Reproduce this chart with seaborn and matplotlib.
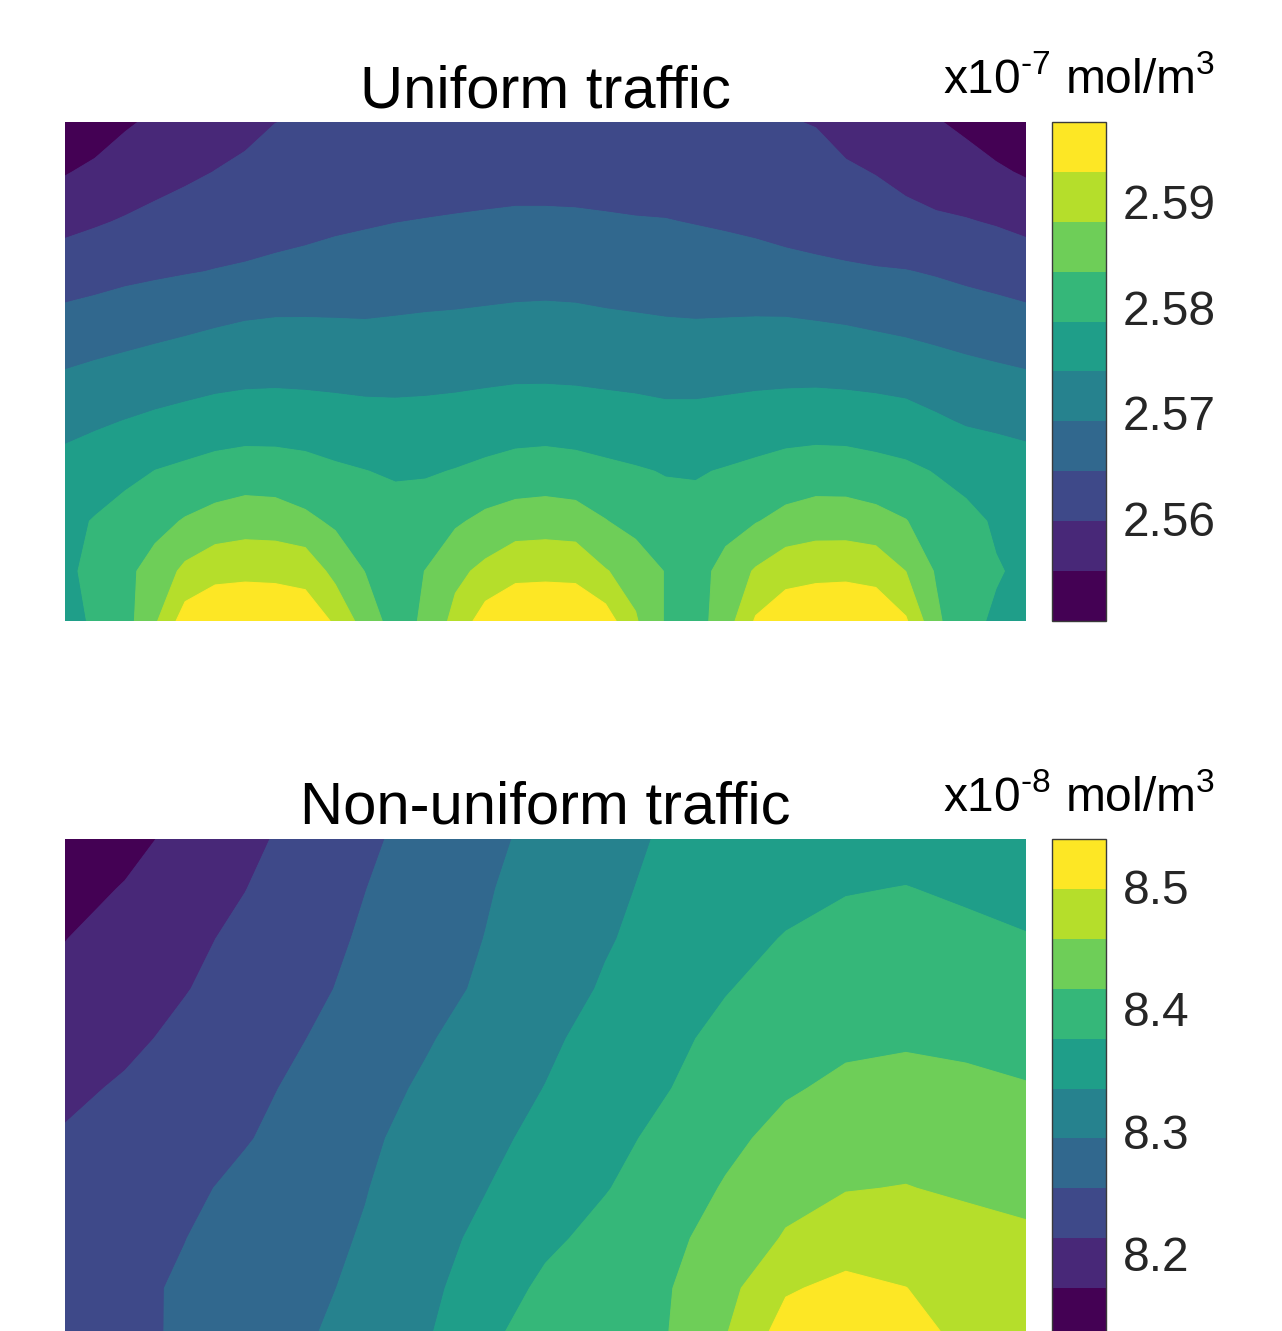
import numpy as np
import matplotlib as mpl
mpl.use("Agg")
import matplotlib.pyplot as plt
import seaborn as sns

# ---------------- data (concentration fields) ----------------
# Uniform traffic, units of 1e-7 mol/m^3; 11 rows (top -> bottom) x 33 columns (left -> right)
uniform_conc = [
    [2.5503, 2.5524, 2.5545, 2.5557, 2.5568, 2.5579, 2.5588, 2.5597, 2.5600, 2.5601, 2.5602, 2.5603, 2.5604, 2.5604, 2.5604, 2.5605, 2.5605, 2.5605, 2.5605, 2.5604, 2.5604, 2.5603, 2.5601, 2.5600, 2.5599, 2.5596, 2.5584, 2.5574, 2.5563, 2.5553, 2.5541, 2.5524, 2.5505],
    [2.5547, 2.5560, 2.5571, 2.5581, 2.5590, 2.5598, 2.5604, 2.5610, 2.5615, 2.5619, 2.5621, 2.5623, 2.5625, 2.5626, 2.5627, 2.5628, 2.5628, 2.5628, 2.5627, 2.5626, 2.5625, 2.5623, 2.5621, 2.5618, 2.5613, 2.5608, 2.5602, 2.5596, 2.5587, 2.5578, 2.5568, 2.5557, 2.5545],
    [2.5585, 2.5593, 2.5601, 2.5609, 2.5615, 2.5621, 2.5626, 2.5630, 2.5634, 2.5638, 2.5641, 2.5644, 2.5646, 2.5648, 2.5650, 2.5652, 2.5652, 2.5651, 2.5649, 2.5647, 2.5646, 2.5643, 2.5640, 2.5636, 2.5631, 2.5626, 2.5620, 2.5614, 2.5608, 2.5603, 2.5600, 2.5594, 2.5586],
    [2.5622, 2.5628, 2.5634, 2.5638, 2.5642, 2.5646, 2.5649, 2.5653, 2.5656, 2.5660, 2.5663, 2.5665, 2.5668, 2.5671, 2.5673, 2.5675, 2.5677, 2.5676, 2.5674, 2.5672, 2.5669, 2.5666, 2.5663, 2.5661, 2.5657, 2.5654, 2.5651, 2.5648, 2.5646, 2.5641, 2.5635, 2.5629, 2.5622],
    [2.5658, 2.5663, 2.5669, 2.5675, 2.5681, 2.5687, 2.5692, 2.5695, 2.5695, 2.5694, 2.5693, 2.5695, 2.5697, 2.5698, 2.5700, 2.5702, 2.5702, 2.5701, 2.5698, 2.5696, 2.5694, 2.5693, 2.5694, 2.5695, 2.5695, 2.5692, 2.5689, 2.5684, 2.5679, 2.5673, 2.5667, 2.5663, 2.5658],
    [2.5693, 2.5700, 2.5706, 2.5712, 2.5717, 2.5722, 2.5725, 2.5726, 2.5725, 2.5724, 2.5723, 2.5724, 2.5725, 2.5726, 2.5728, 2.5730, 2.5730, 2.5729, 2.5727, 2.5725, 2.5722, 2.5722, 2.5723, 2.5725, 2.5726, 2.5726, 2.5724, 2.5722, 2.5718, 2.5711, 2.5704, 2.5698, 2.5693],
    [2.5727, 2.5733, 2.5740, 2.5747, 2.5753, 2.5759, 2.5763, 2.5764, 2.5762, 2.5758, 2.5754, 2.5752, 2.5753, 2.5756, 2.5760, 2.5764, 2.5765, 2.5763, 2.5759, 2.5756, 2.5752, 2.5752, 2.5756, 2.5760, 2.5763, 2.5765, 2.5764, 2.5760, 2.5756, 2.5745, 2.5735, 2.5731, 2.5727],
    [2.5753, 2.5763, 2.5772, 2.5787, 2.5795, 2.5804, 2.5809, 2.5807, 2.5802, 2.5793, 2.5787, 2.5781, 2.5782, 2.5788, 2.5796, 2.5804, 2.5807, 2.5803, 2.5796, 2.5790, 2.5784, 2.5783, 2.5789, 2.5796, 2.5805, 2.5809, 2.5808, 2.5802, 2.5795, 2.5784, 2.5772, 2.5763, 2.5756],
    [2.5774, 2.5789, 2.5808, 2.5819, 2.5837, 2.5850, 2.5859, 2.5857, 2.5843, 2.5826, 2.5812, 2.5805, 2.5809, 2.5827, 2.5845, 2.5856, 2.5859, 2.5855, 2.5835, 2.5817, 2.5803, 2.5800, 2.5814, 2.5831, 2.5847, 2.5857, 2.5857, 2.5849, 2.5835, 2.5809, 2.5798, 2.5781, 2.5774],
    [2.5781, 2.5793, 2.5822, 2.5851, 2.5891, 2.5915, 2.5917, 2.5916, 2.5914, 2.5865, 2.5832, 2.5815, 2.5834, 2.5869, 2.5892, 2.5916, 2.5917, 2.5916, 2.5883, 2.5862, 2.5831, 2.5812, 2.5852, 2.5885, 2.5911, 2.5916, 2.5917, 2.5913, 2.5880, 2.5829, 2.5800, 2.5789, 2.5779],
    [2.5774, 2.5791, 2.5815, 2.5874, 2.5951, 2.5961, 2.5966, 2.5963, 2.5951, 2.5923, 2.5857, 2.5815, 2.5840, 2.5895, 2.5951, 2.5963, 2.5966, 2.5963, 2.5951, 2.5885, 2.5829, 2.5815, 2.5857, 2.5933, 2.5956, 2.5963, 2.5966, 2.5958, 2.5933, 2.5843, 2.5796, 2.5781, 2.5774],
]
uniform_range = [2.5503, 2.5975]
uniform_ticks = [2.56, 2.57, 2.58, 2.59]

# Non-uniform traffic, units of 1e-8 mol/m^3; 11 rows (top -> bottom) x 17 columns
nonuniform_conc = [
    [8.1386, 8.1606, 8.1816, 8.2036, 8.2246, 8.2466, 8.2666, 8.2856, 8.3046, 8.3226, 8.3386, 8.3466, 8.3536, 8.3576, 8.3626, 8.3596, 8.3506],
    [8.1586, 8.1736, 8.1916, 8.2116, 8.2326, 8.2526, 8.2716, 8.2906, 8.3106, 8.3276, 8.3426, 8.3556, 8.3646, 8.3736, 8.3766, 8.3706, 8.3636],
    [8.1706, 8.1876, 8.2036, 8.2206, 8.2386, 8.2576, 8.2766, 8.2946, 8.3146, 8.3316, 8.3486, 8.3626, 8.3776, 8.3866, 8.3886, 8.3836, 8.3776],
    [8.1816, 8.1956, 8.2106, 8.2276, 8.2446, 8.2626, 8.2806, 8.2996, 8.3176, 8.3386, 8.3576, 8.3736, 8.3896, 8.3986, 8.4006, 8.3966, 8.3916],
    [8.1936, 8.2046, 8.2206, 8.2376, 8.2526, 8.2716, 8.2906, 8.3086, 8.3276, 8.3486, 8.3656, 8.3856, 8.4026, 8.4096, 8.4126, 8.4096, 8.4046],
    [8.2046, 8.2166, 8.2296, 8.2426, 8.2616, 8.2816, 8.2986, 8.3176, 8.3356, 8.3556, 8.3736, 8.3936, 8.4126, 8.4236, 8.4266, 8.4236, 8.4186],
    [8.2156, 8.2256, 8.2366, 8.2506, 8.2676, 8.2876, 8.3066, 8.3256, 8.3446, 8.3646, 8.3846, 8.4076, 8.4276, 8.4396, 8.4426, 8.4386, 8.4326],
    [8.2226, 8.2326, 8.2456, 8.2616, 8.2776, 8.2926, 8.3106, 8.3336, 8.3556, 8.3736, 8.3956, 8.4196, 8.4446, 8.4556, 8.4586, 8.4516, 8.4466],
    [8.2296, 8.2386, 8.2526, 8.2676, 8.2826, 8.2966, 8.3216, 8.3426, 8.3676, 8.3876, 8.4066, 8.4306, 8.4606, 8.4776, 8.4766, 8.4716, 8.4636],
    [8.2346, 8.2446, 8.2576, 8.2716, 8.2846, 8.3026, 8.3256, 8.3536, 8.3836, 8.4006, 8.4126, 8.4446, 8.4936, 8.5086, 8.4986, 8.4816, 8.4716],
    [8.2386, 8.2486, 8.2556, 8.2756, 8.2906, 8.3086, 8.3306, 8.3696, 8.3916, 8.4046, 8.4146, 8.4566, 8.5186, 8.5226, 8.5146, 8.4896, 8.4776],
]
nonuniform_range = [8.1306, 8.5390]
nonuniform_ticks = [8.2, 8.3, 8.4, 8.5]

titles = ["Uniform traffic", "Non-uniform traffic"]
unit_labels = [r"x10$^{\text{-}7}$ mol/m$^{3}$", r"x10$^{\text{-}8}$ mol/m$^{3}$"]
n_bands = 10

# ---------------- style ----------------
sns.set_theme(style="white")
plt.rcParams["font.family"] = ["Liberation Sans", "DejaVu Sans"]
plt.rcParams["mathtext.fontset"] = "custom"
plt.rcParams["mathtext.rm"] = "Liberation Sans"
plt.rcParams["mathtext.it"] = "Liberation Sans"
plt.rcParams["mathtext.bf"] = "Liberation Sans:bold"
plt.rcParams["axes.unicode_minus"] = False

palette = sns.color_palette(mpl.colormaps["viridis"](np.linspace(0, 1, n_bands)))

W, H = 1282, 1331
fig = plt.figure(figsize=(W / 100, H / 100), dpi=100)


def box(l, t, r, b):
    return [l / W, 1 - b / H, (r - l) / W, (b - t) / H]


def panel(ax, cax, conc, vrange, ticks, fmt, title, unit, title_base, unit_base):
    Z = np.array(conc)
    ys = np.arange(Z.shape[0])
    xs = np.arange(Z.shape[1])
    levels = np.linspace(vrange[0], vrange[1], n_bands + 1)
    cs = ax.contourf(xs, ys, Z, levels=levels, colors=palette, antialiased=True)
    cs.set_edgecolor("face")
    cs.set_linewidth(0.8)
    ax.set_xlim(xs[0], xs[-1])
    ax.set_ylim(ys[-1], ys[0])
    ax.set_axis_off()

    cb = fig.colorbar(cs, cax=cax, ticks=ticks)
    cb.ax.set_yticklabels([fmt.format(t) for t in ticks])
    cb.outline.set_edgecolor("#3a3a3a")
    cb.outline.set_linewidth(1.0)
    cax.tick_params(axis="y", direction="in", length=5, width=1.0,
                    colors="#262626", labelsize=34.5, pad=12,
                    right=True, left=False, labelright=True, labelleft=False)
    for t in cax.get_yticklabels():
        t.set_color("#262626")

    pos = ax.get_position()
    fig.text(pos.x0 + pos.width / 2, 1 - title_base / H, title, ha="center",
             va="baseline", fontsize=43, color="black")
    cpos = cax.get_position()
    fig.text(cpos.x0 + cpos.width / 2, 1 - unit_base / H, unit, ha="center",
             va="baseline", fontsize=34.5, color="black")


ax1 = fig.add_axes(box(65, 122, 1026, 621))
cax1 = fig.add_axes(box(1052, 122, 1106, 621))
ax2 = fig.add_axes(box(65, 839, 1026, 1338))
cax2 = fig.add_axes(box(1052, 839, 1106, 1338))

panel(ax1, cax1, uniform_conc, uniform_range, uniform_ticks, "{:.2f}",
      titles[0], unit_labels[0], 107, 93)
panel(ax2, cax2, nonuniform_conc, nonuniform_range, nonuniform_ticks, "{:.1f}",
      titles[1], unit_labels[1], 824, 811)

fig.savefig("out.png", dpi=100, facecolor="white")
